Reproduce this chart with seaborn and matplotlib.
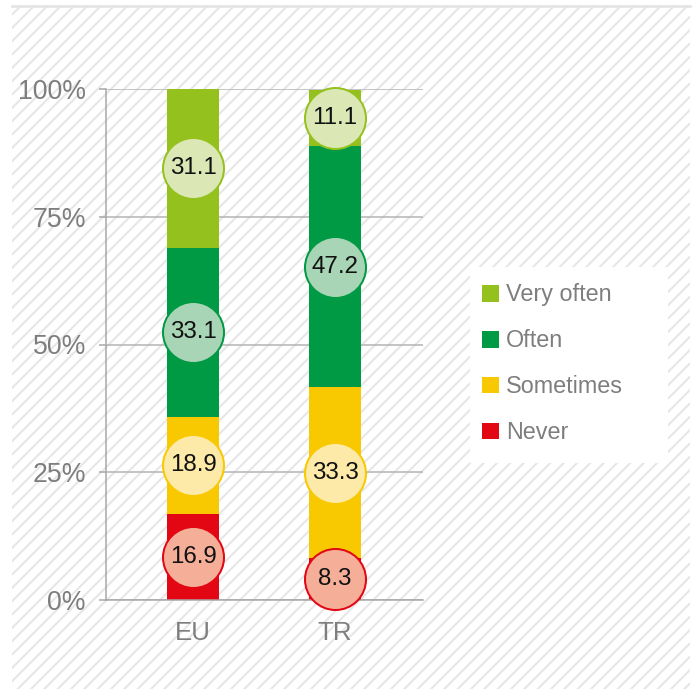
import pandas as pd
import matplotlib.pyplot as plt
import seaborn as sns
from matplotlib.patches import Rectangle, Patch
from matplotlib.lines import Line2D

# data
regions = ['EU', 'TR']
levels = ['Never', 'Sometimes', 'Often', 'Very often']
never = [16.9, 8.3]
sometimes = [18.9, 33.3]
often = [33.1, 47.2]
very_often = [31.1, 11.1]
y_ticks = [0, 25, 50, 75, 100]
y_labels = ['0%', '25%', '50%', '75%', '100%']

bar_colors = {'Never': '#e30613', 'Sometimes': '#f8c900', 'Often': '#009a44', 'Very often': '#95c11f'}
dot_colors = {'Never': '#f5ae98', 'Sometimes': '#fde9a8', 'Often': '#a8d5b5', 'Very often': '#dbe8b5'}
gray = '#7e7e7e'

plt.rcParams['font.family'] = ['Liberation Sans', 'DejaVu Sans']
plt.rcParams['hatch.linewidth'] = 1.2
plt.rcParams['hatch.color'] = '#e6e6e6'

# long table with cumulative tops and midpoints for each segment
rows = []
for i, r in enumerate(regions):
    base = 0
    for lvl, vals in zip(levels, [never, sometimes, often, very_often]):
        v = vals[i]
        rows.append({'region': r, 'pos': i, 'level': lvl, 'value': v,
                     'top': base + v, 'mid': base + v / 2})
        base += v
df = pd.DataFrame(rows)

fig = plt.figure(figsize=(5.8, 689 / 120), dpi=120)
fig.patch.set_facecolor('white')

# hatched backdrop
W, H = 696, 689
fig.patches.append(Rectangle((12 / W, 0), (690 - 12) / W, (689 - 5) / H, transform=fig.transFigure,
                             facecolor='white', edgecolor='#e6e6e6', hatch='///', lw=0, zorder=-2))
fig.lines.append(Line2D([12 / W, 690 / W], [1 - 5.5 / H, 1 - 5.5 / H], transform=fig.transFigure,
                        color='#e4e4e4', lw=1.6, zorder=-1))
# legend box
fig.patches.append(Rectangle((470 / W, 1 - 463 / H), 198 / W, 196 / H, transform=fig.transFigure,
                             facecolor='white', edgecolor='none', zorder=-1))

ax = fig.add_axes([106 / W, 1 - 600 / H, 317 / W, 511 / H])
ax.set_facecolor('none')

# stacked bars: draw cumulative tops from the highest level down
for lvl in levels[::-1]:
    sub = df[df['level'] == lvl]
    sns.barplot(data=sub, x='region', y='top', color=bar_colors[lvl], saturation=1,
                width=0.366, linewidth=0, ax=ax, zorder=2)

# circle labels
for lvl in levels:
    sub = df[df['level'] == lvl]
    ax.scatter(sub['pos'], sub['mid'], s=1340, color=dot_colors[lvl], edgecolor=bar_colors[lvl],
               linewidth=1.2, zorder=4, clip_on=False)
    for _, row in sub.iterrows():
        ax.text(row['pos'], row['mid'], f"{row['value']:.1f}", ha='center', va='center',
                fontsize=14.5, color='#111111', zorder=5)

ax.set_xlim(-0.613, 1.62)
ax.set_ylim(0, 100)
ax.set_yticks(y_ticks)
ax.set_yticklabels(y_labels)
ax.set_xlabel('')
ax.set_ylabel('')
ax.set_axisbelow(True)
ax.yaxis.grid(True, color='#b3b3b3', linewidth=0.9)
ax.xaxis.grid(False)
for s in ['top', 'right']:
    ax.spines[s].set_visible(False)
ax.spines['left'].set_color('#a6a6a6')
ax.spines['bottom'].set_color('#a6a6a6')
ax.spines['left'].set_linewidth(0.9)
ax.spines['bottom'].set_linewidth(0.9)
ax.tick_params(axis='y', direction='out', length=4.2, width=0.9, color='#a6a6a6',
               pad=7.8, labelsize=16, labelcolor=gray)
ax.tick_params(axis='x', length=0, pad=12.5, labelsize=15.5, labelcolor=gray)

handles = [Patch(facecolor=bar_colors[l], edgecolor='none') for l in levels[::-1]]
leg = fig.legend(handles, levels[::-1], loc='upper left', bbox_to_anchor=(482 / W, 1 - 283.5 / H),
                 frameon=False, fontsize=14, labelcolor=gray, handlelength=0.72, handleheight=0.72,
                 handletextpad=0.32, labelspacing=0.98, borderpad=0, borderaxespad=0)

fig.savefig('out.png', dpi=120)
